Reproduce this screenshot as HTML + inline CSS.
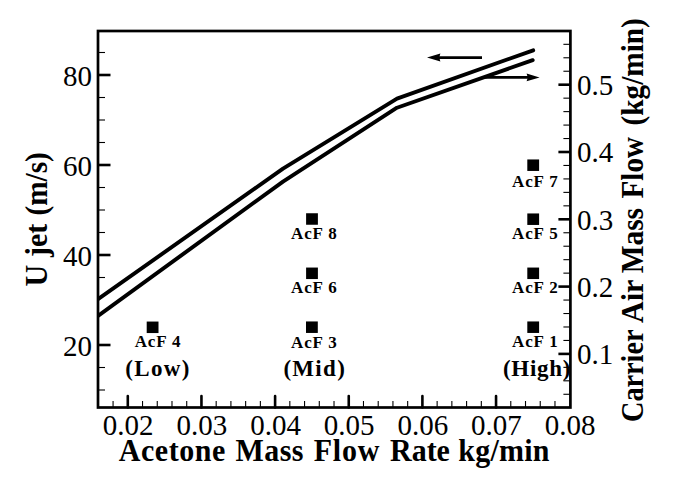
<!DOCTYPE html>
<html><head><meta charset="utf-8"><style>
html,body{margin:0;padding:0;background:#fff;}
svg{display:block;}
.num{font-family:"Liberation Serif",serif;font-size:29px;fill:#000;}
.acf{font-family:"Liberation Serif",serif;font-weight:bold;font-size:17px;letter-spacing:0.85px;fill:#000;}
.grp{font-family:"Liberation Serif",serif;font-weight:bold;font-size:23px;fill:#000;}
.ttl{font-family:"Liberation Serif",serif;font-weight:bold;font-size:30px;fill:#000;}
</style></head><body>
<svg width="676" height="479" viewBox="0 0 676 479">
<rect width="676" height="479" fill="#fff"/>
<rect x="98.0" y="31.0" width="472.4" height="376.5" fill="none" stroke="#000" stroke-width="2.7"/>
<line x1="113.07" y1="407.5" x2="113.07" y2="401.0" stroke="#000" stroke-width="1.1"/>
<line x1="127.80" y1="407.5" x2="127.80" y2="396.0" stroke="#000" stroke-width="2.6" stroke-linecap="round"/>
<line x1="142.53" y1="407.5" x2="142.53" y2="401.0" stroke="#000" stroke-width="1.1"/>
<line x1="157.26" y1="407.5" x2="157.26" y2="401.0" stroke="#000" stroke-width="1.1"/>
<line x1="171.99" y1="407.5" x2="171.99" y2="401.0" stroke="#000" stroke-width="1.1"/>
<line x1="186.72" y1="407.5" x2="186.72" y2="401.0" stroke="#000" stroke-width="1.1"/>
<line x1="201.45" y1="407.5" x2="201.45" y2="396.0" stroke="#000" stroke-width="2.6" stroke-linecap="round"/>
<line x1="216.18" y1="407.5" x2="216.18" y2="401.0" stroke="#000" stroke-width="1.1"/>
<line x1="230.91" y1="407.5" x2="230.91" y2="401.0" stroke="#000" stroke-width="1.1"/>
<line x1="245.64" y1="407.5" x2="245.64" y2="401.0" stroke="#000" stroke-width="1.1"/>
<line x1="260.37" y1="407.5" x2="260.37" y2="401.0" stroke="#000" stroke-width="1.1"/>
<line x1="275.10" y1="407.5" x2="275.10" y2="396.0" stroke="#000" stroke-width="2.6" stroke-linecap="round"/>
<line x1="289.83" y1="407.5" x2="289.83" y2="401.0" stroke="#000" stroke-width="1.1"/>
<line x1="304.56" y1="407.5" x2="304.56" y2="401.0" stroke="#000" stroke-width="1.1"/>
<line x1="319.29" y1="407.5" x2="319.29" y2="401.0" stroke="#000" stroke-width="1.1"/>
<line x1="334.02" y1="407.5" x2="334.02" y2="401.0" stroke="#000" stroke-width="1.1"/>
<line x1="348.75" y1="407.5" x2="348.75" y2="396.0" stroke="#000" stroke-width="2.6" stroke-linecap="round"/>
<line x1="363.48" y1="407.5" x2="363.48" y2="401.0" stroke="#000" stroke-width="1.1"/>
<line x1="378.21" y1="407.5" x2="378.21" y2="401.0" stroke="#000" stroke-width="1.1"/>
<line x1="392.94" y1="407.5" x2="392.94" y2="401.0" stroke="#000" stroke-width="1.1"/>
<line x1="407.67" y1="407.5" x2="407.67" y2="401.0" stroke="#000" stroke-width="1.1"/>
<line x1="422.40" y1="407.5" x2="422.40" y2="396.0" stroke="#000" stroke-width="2.6" stroke-linecap="round"/>
<line x1="437.13" y1="407.5" x2="437.13" y2="401.0" stroke="#000" stroke-width="1.1"/>
<line x1="451.86" y1="407.5" x2="451.86" y2="401.0" stroke="#000" stroke-width="1.1"/>
<line x1="466.59" y1="407.5" x2="466.59" y2="401.0" stroke="#000" stroke-width="1.1"/>
<line x1="481.32" y1="407.5" x2="481.32" y2="401.0" stroke="#000" stroke-width="1.1"/>
<line x1="496.05" y1="407.5" x2="496.05" y2="396.0" stroke="#000" stroke-width="2.6" stroke-linecap="round"/>
<line x1="510.78" y1="407.5" x2="510.78" y2="401.0" stroke="#000" stroke-width="1.1"/>
<line x1="525.51" y1="407.5" x2="525.51" y2="401.0" stroke="#000" stroke-width="1.1"/>
<line x1="540.24" y1="407.5" x2="540.24" y2="401.0" stroke="#000" stroke-width="1.1"/>
<line x1="554.97" y1="407.5" x2="554.97" y2="401.0" stroke="#000" stroke-width="1.1"/>
<text x="128.20" y="434.5" class="num" text-anchor="middle">0.02</text>
<text x="201.85" y="434.5" class="num" text-anchor="middle">0.03</text>
<text x="275.50" y="434.5" class="num" text-anchor="middle">0.04</text>
<text x="349.15" y="434.5" class="num" text-anchor="middle">0.05</text>
<text x="422.80" y="434.5" class="num" text-anchor="middle">0.06</text>
<text x="496.45" y="434.5" class="num" text-anchor="middle">0.07</text>
<text x="570.10" y="434.5" class="num" text-anchor="middle">0.08</text>
<line x1="98.0" y1="390.00" x2="105.0" y2="390.00" stroke="#000" stroke-width="1.1"/>
<line x1="98.0" y1="367.50" x2="105.0" y2="367.50" stroke="#000" stroke-width="1.1"/>
<line x1="98.0" y1="345.00" x2="110.5" y2="345.00" stroke="#000" stroke-width="2.6"/>
<text x="92" y="355.50" class="num" text-anchor="end">20</text>
<line x1="98.0" y1="277.50" x2="105.0" y2="277.50" stroke="#000" stroke-width="1.1"/>
<line x1="98.0" y1="255.00" x2="110.5" y2="255.00" stroke="#000" stroke-width="2.6"/>
<text x="92" y="265.50" class="num" text-anchor="end">40</text>
<line x1="98.0" y1="232.50" x2="105.0" y2="232.50" stroke="#000" stroke-width="1.1"/>
<line x1="98.0" y1="210.00" x2="105.0" y2="210.00" stroke="#000" stroke-width="1.1"/>
<line x1="98.0" y1="187.50" x2="105.0" y2="187.50" stroke="#000" stroke-width="1.1"/>
<line x1="98.0" y1="165.00" x2="110.5" y2="165.00" stroke="#000" stroke-width="2.6"/>
<text x="92" y="175.50" class="num" text-anchor="end">60</text>
<line x1="98.0" y1="142.50" x2="105.0" y2="142.50" stroke="#000" stroke-width="1.1"/>
<line x1="98.0" y1="120.00" x2="105.0" y2="120.00" stroke="#000" stroke-width="1.1"/>
<line x1="98.0" y1="97.50" x2="105.0" y2="97.50" stroke="#000" stroke-width="1.1"/>
<line x1="98.0" y1="75.00" x2="110.5" y2="75.00" stroke="#000" stroke-width="2.6"/>
<text x="92" y="85.50" class="num" text-anchor="end">80</text>
<line x1="98.0" y1="52.50" x2="105.0" y2="52.50" stroke="#000" stroke-width="1.1"/>
<line x1="570.4" y1="394.28" x2="563.4" y2="394.28" stroke="#000" stroke-width="1.1"/>
<line x1="570.4" y1="380.82" x2="563.4" y2="380.82" stroke="#000" stroke-width="1.1"/>
<line x1="570.4" y1="367.36" x2="563.4" y2="367.36" stroke="#000" stroke-width="1.1"/>
<line x1="570.4" y1="353.90" x2="558.4" y2="353.90" stroke="#000" stroke-width="2.6"/>
<text x="577" y="364.20" class="num">0.1</text>
<line x1="570.4" y1="340.44" x2="563.4" y2="340.44" stroke="#000" stroke-width="1.1"/>
<line x1="570.4" y1="326.98" x2="563.4" y2="326.98" stroke="#000" stroke-width="1.1"/>
<line x1="570.4" y1="313.52" x2="563.4" y2="313.52" stroke="#000" stroke-width="1.1"/>
<line x1="570.4" y1="300.06" x2="563.4" y2="300.06" stroke="#000" stroke-width="1.1"/>
<line x1="570.4" y1="286.60" x2="558.4" y2="286.60" stroke="#000" stroke-width="2.6"/>
<text x="577" y="296.90" class="num">0.2</text>
<line x1="570.4" y1="273.14" x2="563.4" y2="273.14" stroke="#000" stroke-width="1.1"/>
<line x1="570.4" y1="259.68" x2="563.4" y2="259.68" stroke="#000" stroke-width="1.1"/>
<line x1="570.4" y1="246.22" x2="563.4" y2="246.22" stroke="#000" stroke-width="1.1"/>
<line x1="570.4" y1="232.76" x2="563.4" y2="232.76" stroke="#000" stroke-width="1.1"/>
<line x1="570.4" y1="219.30" x2="558.4" y2="219.30" stroke="#000" stroke-width="2.6"/>
<text x="577" y="229.60" class="num">0.3</text>
<line x1="570.4" y1="205.84" x2="563.4" y2="205.84" stroke="#000" stroke-width="1.1"/>
<line x1="570.4" y1="192.38" x2="563.4" y2="192.38" stroke="#000" stroke-width="1.1"/>
<line x1="570.4" y1="178.92" x2="563.4" y2="178.92" stroke="#000" stroke-width="1.1"/>
<line x1="570.4" y1="165.46" x2="563.4" y2="165.46" stroke="#000" stroke-width="1.1"/>
<line x1="570.4" y1="152.00" x2="558.4" y2="152.00" stroke="#000" stroke-width="2.6"/>
<text x="577" y="162.30" class="num">0.4</text>
<line x1="570.4" y1="138.54" x2="563.4" y2="138.54" stroke="#000" stroke-width="1.1"/>
<line x1="570.4" y1="125.08" x2="563.4" y2="125.08" stroke="#000" stroke-width="1.1"/>
<line x1="570.4" y1="111.62" x2="563.4" y2="111.62" stroke="#000" stroke-width="1.1"/>
<line x1="570.4" y1="98.16" x2="563.4" y2="98.16" stroke="#000" stroke-width="1.1"/>
<line x1="570.4" y1="84.70" x2="558.4" y2="84.70" stroke="#000" stroke-width="2.6"/>
<text x="577" y="95.00" class="num">0.5</text>
<line x1="570.4" y1="71.24" x2="563.4" y2="71.24" stroke="#000" stroke-width="1.1"/>
<line x1="570.4" y1="57.78" x2="563.4" y2="57.78" stroke="#000" stroke-width="1.1"/>
<line x1="570.4" y1="44.32" x2="563.4" y2="44.32" stroke="#000" stroke-width="1.1"/>
<clipPath id="pc"><rect x="98" y="0" width="500" height="479"/></clipPath>
<g clip-path="url(#pc)"><polyline points="98.0,299.08 283,168.7 397,98.7 533.2,50.3" fill="none" stroke="#000" stroke-width="3.9" stroke-linejoin="round" stroke-linecap="round"/>
<polyline points="98.0,315.8 283,181.59 397,107.73 532.7,60.14" fill="none" stroke="#000" stroke-width="3.9" stroke-linejoin="round" stroke-linecap="round"/></g>
<line x1="438" y1="57.6" x2="482" y2="57.6" stroke="#000" stroke-width="2.7"/>
<polygon points="427,57.6 440.4,53.6 439.2,57.6 440.4,61.6" fill="#000"/>
<line x1="485" y1="77.4" x2="529" y2="77.4" stroke="#000" stroke-width="2.7"/>
<polygon points="539.6,77.4 526.6,73.5 527.8,77.4 526.6,81.3" fill="#000"/>
<rect x="146.70" y="321.55" width="11.8" height="11.5" fill="#000"/>
<text x="134.70" y="347.40" class="acf">AcF 4</text>
<rect x="306.00" y="321.45" width="11.8" height="11.5" fill="#000"/>
<text x="291.10" y="347.60" class="acf">AcF 3</text>
<rect x="306.10" y="267.55" width="11.8" height="11.5" fill="#000"/>
<text x="291.10" y="292.60" class="acf">AcF 6</text>
<rect x="306.10" y="213.25" width="11.8" height="11.5" fill="#000"/>
<text x="291.10" y="239.30" class="acf">AcF 8</text>
<rect x="527.30" y="321.45" width="11.8" height="11.5" fill="#000"/>
<text x="512.00" y="347.30" class="acf">AcF 1</text>
<rect x="527.30" y="267.55" width="11.8" height="11.5" fill="#000"/>
<text x="512.00" y="292.60" class="acf">AcF 2</text>
<rect x="527.30" y="213.45" width="11.8" height="11.5" fill="#000"/>
<text x="512.00" y="239.30" class="acf">AcF 5</text>
<rect x="527.30" y="159.45" width="11.8" height="11.5" fill="#000"/>
<text x="512.00" y="187.00" class="acf">AcF 7</text>
<text x="125.2" y="375.8" class="grp" style="letter-spacing:1.35px">(Low)</text>
<text x="283.4" y="375.8" class="grp" style="letter-spacing:1.3px">(Mid)</text>
<text x="503.0" y="375.8" class="grp" style="letter-spacing:0.7px">(High)</text>
<text transform="translate(118.8,460.8) scale(1,1.07)" class="ttl" style="letter-spacing:0.55px">Acetone</text>
<text transform="translate(235.4,460.8) scale(1,1.07)" class="ttl" style="letter-spacing:0.5px">Mass</text>
<text transform="translate(313.7,460.8) scale(1,1.07)" class="ttl" style="letter-spacing:0.8px">Flow</text>
<text transform="translate(390,460.8) scale(1,1.07)" class="ttl" style="letter-spacing:0px">Rate</text>
<text transform="translate(458.3,460.8) scale(1,1.07)" class="ttl" style="letter-spacing:0.25px">kg/min</text>
<text transform="translate(47.4,286.5) rotate(-90) scale(1.0,1.07)" class="ttl">U</text>
<text transform="translate(47.4,257.0) rotate(-90) scale(1.0,1.07)" class="ttl">jet</text>
<text transform="translate(47.4,215.475) rotate(-90) scale(0.975,1.07)" class="ttl">(m/s)</text>
<text transform="translate(642.8,421.88) rotate(-90) scale(0.94,1.07)" class="ttl">Carrier</text>
<text transform="translate(642.8,323.0) rotate(-90) scale(1.0,1.07)" class="ttl">Air</text>
<text transform="translate(642.8,273.28000000000003) rotate(-90) scale(0.98,1.07)" class="ttl">Mass</text>
<text transform="translate(642.8,198.47) rotate(-90) scale(0.97,1.07)" class="ttl">Flow</text>
<text transform="translate(642.8,125.375) rotate(-90) scale(0.975,1.07)" class="ttl">(kg/min)</text>
</svg>
</body></html>
